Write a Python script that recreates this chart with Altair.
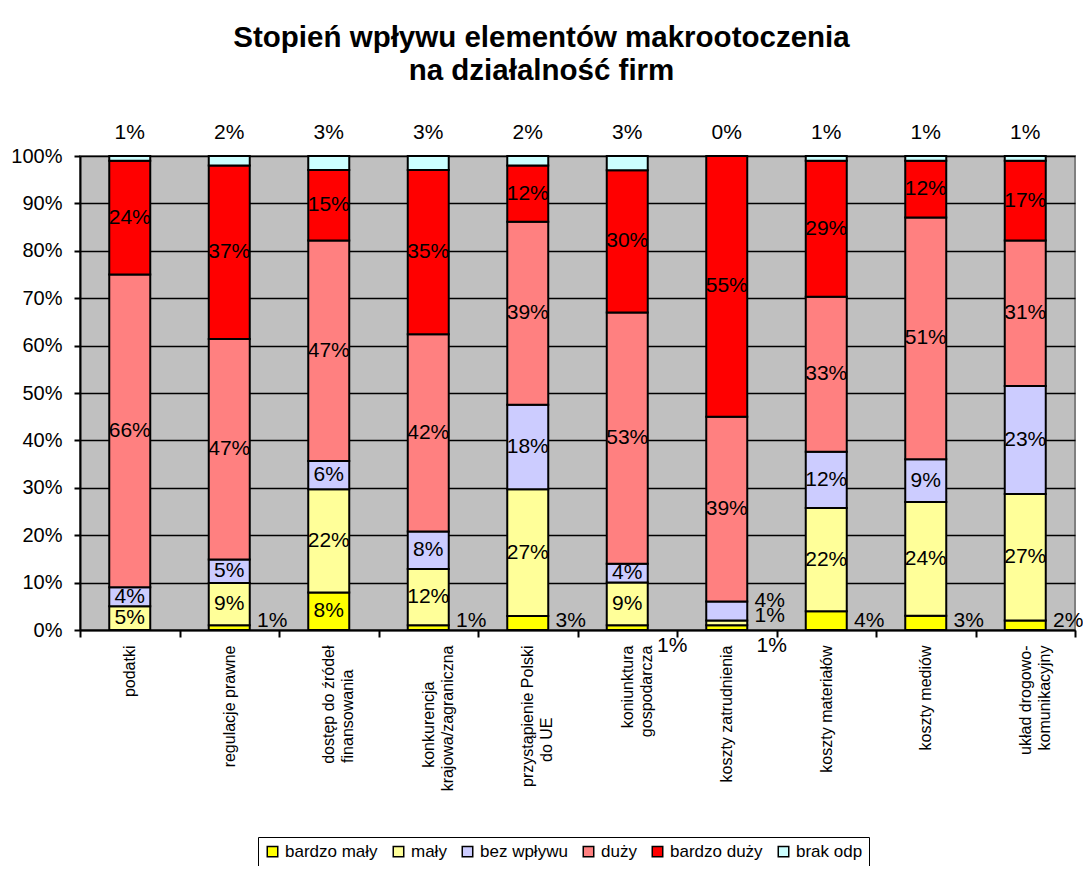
import altair as alt
import pandas as pd

FONT = "Liberation Sans"

categories = [
    "podatki",
    "regulacje prawne",
    "dostęp do źródeł\nfinansowania",
    "konkurencja\nkrajowa/zagraniczna",
    "przystąpienie Polski\ndo UE",
    "koniunktura\ngospodarcza",
    "koszty zatrudnienia",
    "koszty materiałów",
    "koszty mediów",
    "układ drogowo-\nkomunikacyjny",
]

series_names = ["bardzo mały", "mały", "bez wpływu", "duży", "bardzo duży", "brak odp"]
series_colors = ["#FFFF00", "#FFFF99", "#CCCCFF", "#FF8080", "#FF0000", "#CCFFFF"]

bardzo_maly = [0, 1, 8, 1, 3, 1, 1, 4, 3, 2]
maly = [5, 9, 22, 12, 27, 9, 1, 22, 24, 27]
bez_wplywu = [4, 5, 6, 8, 18, 4, 4, 12, 9, 23]
duzy = [66, 47, 47, 42, 39, 53, 39, 33, 51, 31]
bardzo_duzy = [24, 37, 15, 35, 12, 30, 55, 29, 12, 17]
brak_odp = [1, 2, 3, 3, 2, 3, 0, 1, 1, 1]

title_lines = ["Stopień wpływu elementów makrootoczenia", "na działalność firm"]

# labels drawn beside the bar: (category index, series, row) row 0 = at axis, -1 = below axis, 1 = raised
side_labels = [
    (1, "bardzo mały", 0), (3, "bardzo mały", 0), (4, "bardzo mały", 0),
    (5, "bardzo mały", -1), (6, "bardzo mały", -1), (6, "mały", 0),
    (6, "bez wpływu", 1), (7, "bardzo mały", 0), (8, "bardzo mały", 0),
    (9, "bardzo mały", 0),
]

series_values = [bardzo_maly, maly, bez_wplywu, duzy, bardzo_duzy, brak_odp]
side_map = {(categories[i], s): r for i, s, r in side_labels}

rows = []
for i, cat in enumerate(categories):
    total = sum(v[i] for v in series_values)
    cum = 0.0
    for s, vals in zip(series_names, series_values):
        v = vals[i]
        start = cum / total
        cum += v
        end = cum / total
        if s == "brak odp":
            place = "top"
        elif (cat, s) in side_map:
            place = {0: "side0", -1: "sidebelow", 1: "sideup"}[side_map[(cat, s)]]
        elif v == 0:
            place = "none"
        else:
            place = "in"
        rows.append(dict(cat=cat, series=s, value=v, start=start, end=end,
                         mid=(start + end) / 2, label=f"{v}%", place=place))
df = pd.DataFrame(rows)

# multi-line category labels; the shorter line is padded with blank (non-trimmed) glyphs
# so that it sits roughly centred on the longer one
BLANK = "\u2800"
L0 = "split(datum.label, '\\n')[0]"
L1 = "split(datum.label, '\\n')[1]"
label_expr = (
    "length(split(datum.label, '\\n')) < 2 ? datum.label : "
    f"[pad({L0}, length({L0}) + round(max(0, length({L1}) - length({L0})) * 0.42), '{BLANK}'), "
    f"pad({L1}, length({L1}) + round(max(0, length({L0}) - length({L1})) * 0.42), '{BLANK}')]"
)

x_enc = alt.X("cat:N", sort=categories,
              scale=alt.Scale(paddingInner=0, paddingOuter=0),
              axis=alt.Axis(title=None, labelAngle=270, labelAlign="right", labelBaseline="middle",
                            labelFontSize=16, labelLineHeight=19, labelPadding=8, labelColor="black",
                            labelFont=FONT, labelExpr=label_expr,
                            tickBand="extent", tickColor="black", tickSize=7, tickWidth=2,
                            domainColor="black", domainWidth=2, grid=False, labelLimit=300))

bars = alt.Chart(df[df.value > 0]).mark_bar(size=41, stroke="black", strokeWidth=2).encode(
    x=x_enc,
    y=alt.Y("start:Q", scale=alt.Scale(domain=[0, 1]),
            axis=alt.Axis(title=None, format="%", values=[i / 10 for i in range(11)],
                          grid=True, gridColor="black", gridWidth=1.5,
                          domainColor="black", domainWidth=2, tickColor="black", tickSize=6, tickWidth=2,
                          labelFontSize=20, labelColor="black", labelFont=FONT, labelPadding=12)),
    y2="end:Q",
    color=alt.Color("series:N", sort=series_names,
                    scale=alt.Scale(domain=series_names, range=series_colors),
                    legend=alt.Legend(title=None, orient="none", legendX=178, legendY=681,
                                      direction="horizontal", symbolType="square", symbolSize=110,
                                      symbolStrokeColor="black", symbolStrokeWidth=1.5,
                                      symbolOpacity=1, labelFontSize=17, labelFont=FONT,
                                      labelColor="black", strokeColor="black", padding=6,
                                      fillColor="white", columnPadding=12, labelOffset=4)),
)

txt = dict(fontSize=21, font=FONT, color="black", align="center")

inside = alt.Chart(df[df.place == "in"]).mark_text(baseline="middle", **txt).encode(
    x=alt.X("cat:N", sort=categories), y="mid:Q", text="label:N")
top = alt.Chart(df[df.place == "top"]).mark_text(baseline="middle", dy=-23, **txt).encode(
    x=alt.X("cat:N", sort=categories), y="end:Q", text="label:N")
side0 = alt.Chart(df[df.place == "side0"]).mark_text(baseline="alphabetic", dx=43, dy=-3, **txt).encode(
    x=alt.X("cat:N", sort=categories), y="start:Q", text="label:N")
sideup = alt.Chart(df[df.place == "sideup"]).mark_text(baseline="alphabetic", dx=43, dy=-14, **txt).encode(
    x=alt.X("cat:N", sort=categories), y="start:Q", text="label:N")
sidebelow = alt.Chart(df[df.place == "sidebelow"]).mark_text(baseline="top", dx=45, dy=5, **txt).encode(
    x=alt.X("cat:N", sort=categories), y="start:Q", text="label:N")

chart = alt.layer(bars, inside, top, side0, sideup, sidebelow).properties(
    width=995, height=474,
    title=alt.TitleParams(text=title_lines, fontSize=29.5, font=FONT, fontWeight="bold",
                          anchor="middle", dx=-36, offset=36, color="black", lineHeight=33),
    autosize=alt.AutoSizeParams(type="none"),
    padding={"left": 72, "top": 148, "right": 8, "bottom": 236},
).configure_view(fill="#C0C0C0", stroke="#808080", strokeWidth=2)

chart.save("out.html", embed_options={"renderer": "svg", "actions": False})
